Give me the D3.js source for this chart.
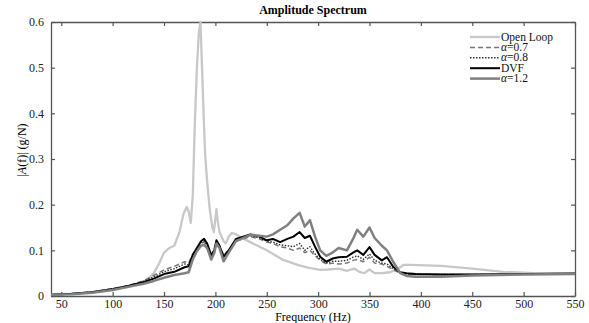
<!DOCTYPE html>
<html>
<head>
<meta charset="utf-8">
<script src="https://cdn.jsdelivr.net/npm/d3@7"></script>
<style>
  body { margin: 0; background: #fff; }
  text { font-family: "Liberation Serif", "Times New Roman", serif; }
</style>
</head>
<body>
<div id="chart"></div>
<script>
// open loop has its own frequency grid (sharp peak)
var olFreq = [40, 60, 80, 100, 115, 125, 133, 140, 145, 150, 155, 160, 165, 169, 172, 174, 176, 178, 180, 182, 184, 185.5, 187, 188.5, 190, 192, 194.5, 197, 198.5, 200, 201, 202.5, 204, 206, 208, 210, 213, 216, 220, 225, 234, 250, 266, 280, 290, 302, 310, 320, 328, 335, 340, 345, 350, 355, 362, 370, 378, 383, 390, 420, 450, 480, 510, 550];
var olVals = [0.003, 0.005, 0.008, 0.014, 0.02, 0.027, 0.035, 0.05, 0.07, 0.095, 0.105, 0.11, 0.14, 0.18, 0.195, 0.185, 0.16, 0.22, 0.38, 0.5, 0.58, 0.6, 0.5, 0.4, 0.31, 0.25, 0.19, 0.15, 0.14, 0.17, 0.19, 0.16, 0.14, 0.13, 0.12, 0.115, 0.13, 0.138, 0.135, 0.128, 0.118, 0.1, 0.079, 0.068, 0.062, 0.057, 0.058, 0.06, 0.055, 0.06, 0.053, 0.05, 0.058, 0.05, 0.05, 0.052, 0.06, 0.068, 0.068, 0.066, 0.06, 0.053, 0.05, 0.049];

// controlled cases share one grid
var freq = [40, 60, 80, 100, 115, 130, 140, 150, 160, 170, 174, 178, 182, 186, 189, 192, 196, 199, 201, 204, 208, 213, 220, 234, 243, 250, 256, 263, 270, 276, 282, 287, 292, 297, 302, 308, 314, 320, 328, 334, 338, 344, 350, 355, 362, 367, 373, 380, 386, 395, 420, 450, 500, 550];
var a07 = [0.003, 0.005, 0.009, 0.016, 0.023, 0.033, 0.045, 0.057, 0.065, 0.075, 0.072, 0.092, 0.105, 0.115, 0.118, 0.11, 0.09, 0.105, 0.118, 0.108, 0.09, 0.1, 0.12, 0.13, 0.125, 0.118, 0.115, 0.108, 0.105, 0.1, 0.105, 0.095, 0.1, 0.088, 0.078, 0.07, 0.072, 0.07, 0.072, 0.078, 0.08, 0.075, 0.085, 0.072, 0.07, 0.065, 0.058, 0.05, 0.048, 0.048, 0.047, 0.047, 0.048, 0.049];
var a08 = [0.003, 0.005, 0.009, 0.016, 0.022, 0.032, 0.042, 0.053, 0.06, 0.07, 0.068, 0.09, 0.103, 0.117, 0.12, 0.112, 0.088, 0.103, 0.12, 0.11, 0.088, 0.1, 0.122, 0.132, 0.127, 0.12, 0.118, 0.112, 0.11, 0.108, 0.115, 0.1, 0.108, 0.092, 0.08, 0.072, 0.076, 0.076, 0.078, 0.085, 0.088, 0.08, 0.092, 0.078, 0.072, 0.07, 0.06, 0.05, 0.048, 0.047, 0.047, 0.047, 0.048, 0.049];
var dvf = [0.003, 0.005, 0.008, 0.015, 0.022, 0.03, 0.038, 0.048, 0.053, 0.063, 0.065, 0.09, 0.105, 0.12, 0.125, 0.115, 0.088, 0.1, 0.122, 0.11, 0.086, 0.1, 0.125, 0.135, 0.13, 0.122, 0.125, 0.118, 0.125, 0.13, 0.14, 0.127, 0.132, 0.108, 0.086, 0.075, 0.082, 0.085, 0.086, 0.095, 0.1, 0.09, 0.107, 0.09, 0.078, 0.085, 0.064, 0.052, 0.05, 0.048, 0.047, 0.047, 0.048, 0.049];
var a12 = [0.003, 0.004, 0.007, 0.013, 0.02, 0.027, 0.033, 0.04, 0.046, 0.05, 0.052, 0.08, 0.098, 0.11, 0.112, 0.105, 0.08, 0.095, 0.115, 0.105, 0.076, 0.095, 0.12, 0.134, 0.132, 0.13, 0.135, 0.145, 0.155, 0.17, 0.182, 0.152, 0.166, 0.13, 0.1, 0.088, 0.095, 0.105, 0.1, 0.125, 0.145, 0.13, 0.15, 0.127, 0.11, 0.1, 0.075, 0.05, 0.044, 0.042, 0.042, 0.045, 0.047, 0.048];

var xTicks = [50, 100, 150, 200, 250, 300, 350, 400, 450, 500, 550];
var yTicks = [0, 0.1, 0.2, 0.3, 0.4, 0.5, 0.6];

var series = [
  {name: "Open Loop", f: olFreq, v: olVals, color: "#c8c8c8", width: 2.3, dash: null, alpha: false},
  {name: "0.7", f: freq, v: a07, color: "#777", width: 1.5, dash: "5,3", alpha: true},
  {name: "0.8", f: freq, v: a08, color: "#333", width: 1.4, dash: "1.5,1.5", alpha: true},
  {name: "DVF", f: freq, v: dvf, color: "#000", width: 2, dash: null, alpha: false},
  {name: "1.2", f: freq, v: a12, color: "#808080", width: 2.5, dash: null, alpha: true}
];

var W = 589, H = 323;
var margin = {top: 22, right: 14, bottom: 27, left: 51},
    width = W - margin.left - margin.right,
    height = H - margin.top - margin.bottom;

var svg = d3.select("#chart").append("svg")
    .attr("width", W).attr("height", H)
  .append("g")
    .attr("transform", "translate(" + margin.left + "," + margin.top + ")");

var x = d3.scaleLinear().domain([40, 550]).range([0, width]);
var y = d3.scaleLinear().domain([0, 0.6]).range([height, 0]);

var axisColor = "#555";

// axes, ticks pointing inward
var xb = svg.append("g").attr("transform", "translate(0," + height + ")")
  .call(d3.axisBottom(x).tickValues(xTicks).tickSizeInner(-4).tickSizeOuter(0).tickPadding(3));
var yl = svg.append("g")
  .call(d3.axisLeft(y).tickValues(yTicks).tickSizeInner(-4).tickSizeOuter(0).tickPadding(7)
    .tickFormat(function(d) { return d === 0 ? "0" : d3.format(".1f")(d); }));
var xt = svg.append("g")
  .call(d3.axisTop(x).tickValues(xTicks).tickSizeInner(-4).tickSizeOuter(0).tickFormat(""));
var yr = svg.append("g").attr("transform", "translate(" + width + ",0)")
  .call(d3.axisRight(y).tickValues(yTicks).tickSizeInner(-4).tickSizeOuter(0).tickFormat(""));

[xb, yl, xt, yr].forEach(function(g) {
  g.selectAll(".domain").attr("stroke", axisColor).attr("stroke-width", 1.3);
  g.selectAll(".tick line").attr("stroke", axisColor).attr("stroke-width", 1.2);
  g.selectAll(".tick text").attr("fill", "#222")
    .style("font-family", "'Liberation Serif', serif").style("font-size", "12px");
});

var line = d3.line()
  .x(function(d) { return x(d[0]); })
  .y(function(d) { return y(d[1]); });

series.forEach(function(s) {
  var pts = s.f.map(function(f, i) { return [f, s.v[i]]; });
  svg.append("path")
    .datum(pts)
    .attr("fill", "none")
    .attr("stroke", s.color)
    .attr("stroke-width", s.width)
    .attr("stroke-dasharray", s.dash)
    .attr("stroke-linejoin", "round")
    .attr("d", line);
});

// title
svg.append("text")
  .attr("x", width / 2).attr("y", -8)
  .attr("text-anchor", "middle")
  .style("font-size", "12px").style("font-weight", "bold")
  .text("Amplitude Spectrum");

// x label
svg.append("text")
  .attr("x", width / 2).attr("y", height + 25)
  .attr("text-anchor", "middle")
  .style("font-size", "12px")
  .text("Frequency (Hz)");

// y label
var yLab = svg.append("text")
  .attr("transform", "rotate(-90)")
  .attr("x", -(150 - margin.top)).attr("y", -25)
  .attr("text-anchor", "middle")
  .style("font-size", "12px");
yLab.append("tspan").text("|");
yLab.append("tspan").style("font-style", "italic").text("A");
yLab.append("tspan").text("(f)| (g/N)");

// legend
var leg = svg.append("g").attr("transform", "translate(" + (470 - margin.left) + "," + (37 - margin.top) + ")");
series.forEach(function(s, i) {
  var gy = i * 10.4;
  leg.append("line")
    .attr("x1", 0).attr("x2", 30).attr("y1", gy).attr("y2", gy)
    .attr("stroke", s.color).attr("stroke-width", s.width)
    .attr("stroke-dasharray", s.dash);
  var t = leg.append("text").attr("x", 31).attr("y", gy + 3.5)
    .style("font-size", "11.5px").attr("fill", "#111");
  if (s.alpha) {
    t.append("tspan").style("font-style", "italic").text("\u03b1");
    t.append("tspan").text("=" + s.name);
  } else {
    t.text(s.name);
  }
});
</script>
</body>
</html>
